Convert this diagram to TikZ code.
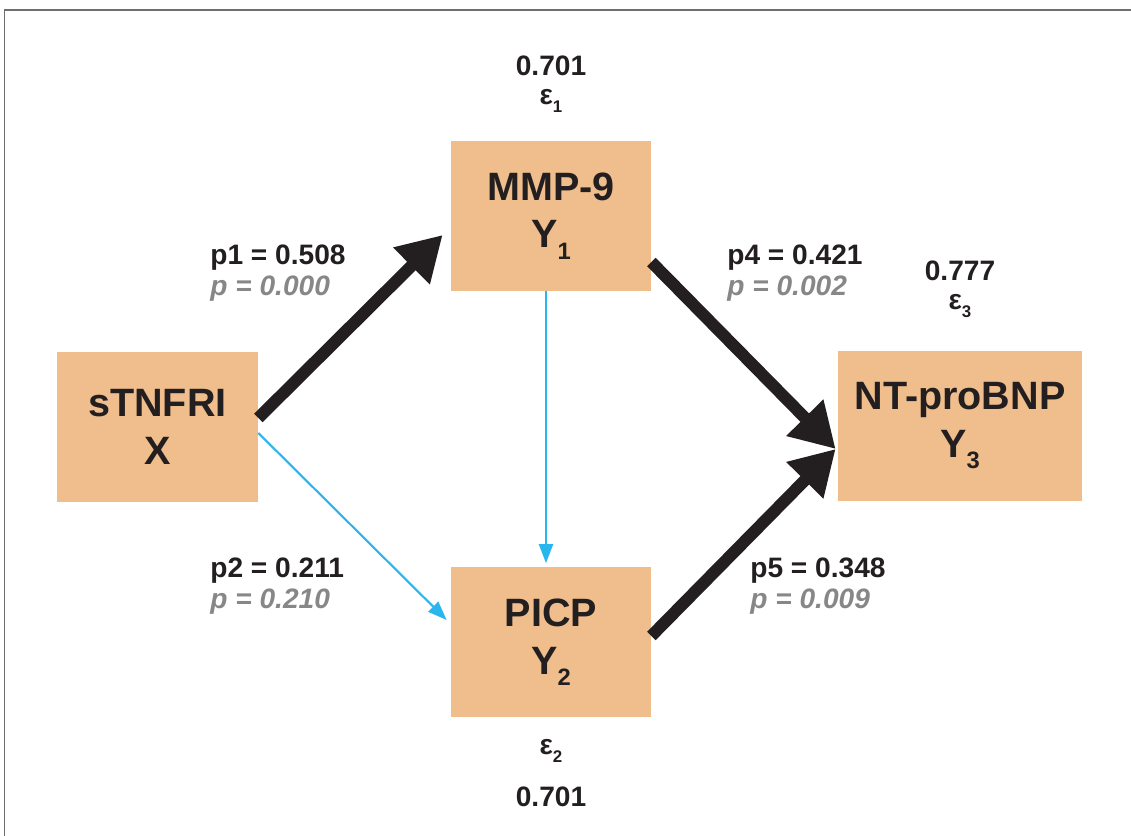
\documentclass[tikz,border=0pt]{standalone}
\usepackage{fontspec}
\setmainfont{Liberation Sans}
\usetikzlibrary{arrows.meta}
\definecolor{boxfill}{RGB}{240,190,140}
\definecolor{pathblue}{RGB}{41,182,236}
\definecolor{pathblack}{RGB}{35,31,32}
\definecolor{pgray}{RGB}{135,135,135}
\definecolor{framegray}{RGB}{110,110,110}
\newcommand{\lowsub}[1]{\raisebox{-0.55ex}{\fontsize{0.6em}{0.6em}\selectfont #1}}

\begin{document}
\begin{tikzpicture}[
		var/.style={fill=boxfill, inner sep=0pt, minimum height=3cm, align=center, text=pathblack, font=\fontsize{22.5}{27}\selectfont\bfseries},
		strong/.style={draw=pathblack, line width=0.24cm, -{Triangle[length=0.88cm, width=0.98cm]}},
		weak/.style={draw=pathblue, line width=1.2pt, -{Triangle[length=0.38cm, width=0.28cm]}},
		lbl/.style={text=pathblack, inner sep=0pt, font=\fontsize{16}{19}\selectfont\bfseries},
		coef/.style={lbl, anchor=west, align=left, font=\fontsize{16}{17.5}\selectfont\bfseries},
	]
			\useasboundingbox (0, 0) rectangle (22.62, 16.72);
			\draw[framegray, line width=1.1pt] (0.09, 0) -- (0.09, 16.52) -- (22.62, 16.52);

			\draw (3.15, 8.18) 	node[var, minimum width=4.02cm] 	(x) 	{sTNFRI\\X};
			\draw (11.02, 12.40) 	node[var, minimum width=4.0cm] 	(y1) 	{MMP-9\\Y\lowsub{1}};
			\draw (11.02, 3.87) 	node[var, minimum width=4.0cm] 	(y2) 	{PICP\\Y\lowsub{2}};
			\draw (19.20, 8.20) 	node[var, minimum width=4.88cm] 	(y3) 	{NT-proBNP\\Y\lowsub{3}};

			\draw (11.02, 15.40) 	node[lbl] 	(e1val) 	{0.701};
			\draw (11.02, 14.70) 	node[lbl] 	(e1) 	{ε\lowsub{1}};
			\draw (19.20, 11.30) 	node[lbl] 	(e3val) 	{0.777};
			\draw (19.20, 10.60) 	node[lbl] 	(e3) 	{ε\lowsub{3}};
			\draw (11.02, 1.70) 	node[lbl] 	(e2) 	{ε\lowsub{2}};
			\draw (11.02, 0.78) 	node[lbl] 	(e2val) 	{0.701};

			\draw (4.2, 11.26) 	node[coef] 	(p1) 	{p1 = 0.508\\\textcolor{pgray}{\itshape p = 0.000}};
			\draw (14.54, 11.26) 	node[coef] 	(p4) 	{p4 = 0.421\\\textcolor{pgray}{\itshape p = 0.002}};
			\draw (4.2, 5.0) 	node[coef] 	(p2) 	{p2 = 0.211\\\textcolor{pgray}{\itshape p = 0.210}};
			\draw (15.0, 5.0) 	node[coef] 	(p5) 	{p5 = 0.348\\\textcolor{pgray}{\itshape p = 0.009}};

			\draw[strong] ([yshift=0.18cm]x.east) -- ([xshift=-0.16cm, yshift=-0.38cm]y1.west);
			\draw[weak] ([yshift=-0.12cm]x.east) -- ([xshift=-0.08cm, yshift=0.45cm]y2.west);
			\draw[weak] ([xshift=-0.1cm]y1.south) -- ([xshift=-0.1cm, yshift=0.08cm]y2.north);
			\draw[strong] ([yshift=-0.92cm]y1.east) -- ([xshift=-0.04cm, yshift=-0.46cm]y3.west);
			\draw[strong] ([yshift=0.13cm]y2.east) -- ([xshift=-0.04cm, yshift=-0.46cm]y3.west);
		\end{tikzpicture}
\end{document}
